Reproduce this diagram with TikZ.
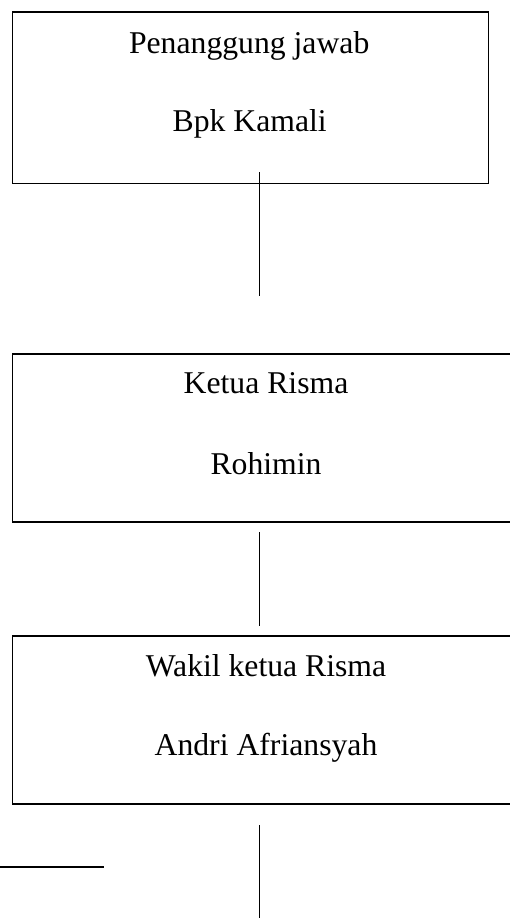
\documentclass[tikz,border=0pt]{standalone}
\usepackage{fontspec}
\setmainfont{Liberation Serif}
\begin{document}
\begin{tikzpicture}[x=1pt,y=-1pt,
  box/.style={draw=black,line width=1.9pt,rectangle,inner sep=0pt},
  lbl/.style={anchor=base,inner sep=0pt,font=\fontsize{31.7}{38}\selectfont},
  conn/.style={draw=black,line width=1.8pt}]
\useasboundingbox (0,0) rectangle (509,918);
% boxes
\node[box,minimum width=476pt,minimum height=171.8pt] (b1) at (250.5,97.6) {};
\node[box,minimum width=507.5pt,minimum height=167.7pt] (b2) at (266.25,437.85) {};
\node[box,minimum width=507.5pt,minimum height=168pt] (b3) at (266.25,720) {};
% texts
\node[lbl] (t1a) at (249.2,53.3) {Penanggung jawab};
\node[lbl] (t1b) at (249.7,131.7) {Bpk Kamali};
\node[lbl] (t2a) at (266,393.3) {Ketua Risma};
\node[lbl] (t2b) at (266,474.3) {Rohimin};
\node[lbl] (t3a) at (266,676.7) {Wakil ketua Risma};
\node[lbl] (t3b) at (266,755) {Andri Afriansyah};
% connector end points
\coordinate (c1a) at (259.5,172);
\coordinate (c1b) at (259.5,296);
\coordinate (c2a) at (259.5,532);
\coordinate (c2b) at (259.5,626);
\coordinate (c3a) at (259.5,825);
\coordinate (c3b) at (259.5,918);
\coordinate (h1a) at (0,866.7);
\coordinate (h1b) at (104,866.7);
\draw[conn] (c1a) -- (c1b);
\draw[conn] (c2a) -- (c2b);
\draw[conn] (c3a) -- (c3b);
\draw[conn] (h1a) -- (h1b);
\end{tikzpicture}
\end{document}
